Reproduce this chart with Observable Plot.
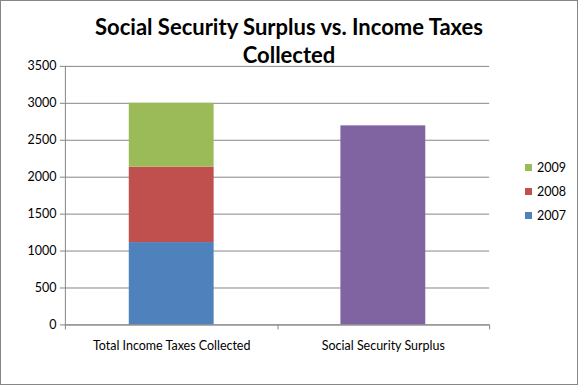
<!DOCTYPE html>
<html>
<head>
<meta charset="utf-8">
<script src="https://cdn.jsdelivr.net/npm/d3@7"></script>
<script src="https://cdn.jsdelivr.net/npm/@observablehq/plot@0.6"></script>
<style>
  html, body { margin: 0; padding: 0; background: #fff; }
  #chart { position: relative; width: 578px; height: 385px; box-sizing: border-box; border: 1px solid #868686; overflow: hidden; font-family: Lato, "Open Sans", sans-serif; }
  #title { position: absolute; left: 0; width: 576px; top: 12px; text-align: center; font-weight: bold; font-size: 22px; line-height: 28px; color: #000; }
  #plot { position: absolute; left: -1px; top: -1px; }
  #legend { position: absolute; left: 524px; top: 154px; font-size: 12.5px; color: #000; }
  .li { display: flex; align-items: center; height: 24px; }
  .sw { width: 7px; height: 7px; margin-right: 5px; }
</style>
</head>
<body>
<div id="chart">
  <div id="plot"></div>
  <div id="title">Social Security Surplus vs. Income Taxes<br>Collected</div>
  <div id="legend"></div>
</div>
<script>
const categories = ["Total Income Taxes Collected", "Social Security Surplus"];
const years = ["2007", "2008", "2009"];
const incomeTaxes = [1115, 1022, 863];
const surplusLabel = "Surplus";
const surplusValue = 2695;
const yTicks = [0, 500, 1000, 1500, 2000, 2500, 3000, 3500];
const seriesColors = ["#4F81BD", "#C0504D", "#9BBB59", "#8064A2"];

const rows = [
  ...years.map((yr, i) => ({cat: categories[0], series: yr, value: incomeTaxes[i]})),
  {cat: categories[1], series: surplusLabel, value: surplusValue}
];

const axisGray = "#868686";

function boundaryTicks(index, scales, values, dims) {
  const x = scales.x;
  const bw = x.bandwidth ? x.bandwidth() : 0;
  const x0 = dims.marginLeft, x2 = dims.width - dims.marginRight;
  const xm = (x(categories[0]) + bw + x(categories[1])) / 2;
  const yb = dims.height - dims.marginBottom;
  const g = document.createElementNS("http://www.w3.org/2000/svg", "g");
  const line = (a, b, c, d) => {
    const l = document.createElementNS("http://www.w3.org/2000/svg", "line");
    l.setAttribute("x1", a); l.setAttribute("y1", b); l.setAttribute("x2", c); l.setAttribute("y2", d);
    l.setAttribute("stroke", axisGray); l.setAttribute("stroke-width", 1);
    g.appendChild(l);
  };
  line(x0 + 0.5, dims.marginTop, x0 + 0.5, yb + 0.5);
  line(x0, yb + 0.5, x2, yb + 0.5);
  for (const xx of [x0, xm, x2]) line(Math.round(xx) + 0.5, yb, Math.round(xx) + 0.5, yb + 5);
  return g;
}

const chart = Plot.plot({
  width: 578,
  height: 385,
  marginLeft: 65,
  marginRight: 88,
  marginTop: 66,
  marginBottom: 60,
  style: {fontFamily: "Lato, 'Open Sans', sans-serif", fontSize: "12.5px", color: "#000", background: "transparent"},
  x: {domain: categories, paddingInner: 0.6, paddingOuter: 0.3, label: null},
  y: {domain: [0, 3500], label: null},
  color: {domain: [...years, surplusLabel], range: seriesColors},
  marks: [
    Plot.gridY(yTicks, {stroke: axisGray, strokeOpacity: 1}),
    Plot.axisY(yTicks, {tickSize: 5, tickPadding: 4, stroke: axisGray, fill: "#000", fontSize: 12.5, tickFormat: d => String(d), label: null}),
    Plot.axisX({tickSize: 0, tickPadding: 16, fill: "#000", fontSize: 12.5, label: null}),
    Plot.barY(rows, Plot.stackY({x: "cat", y: "value", fill: "series", order: null})),
    boundaryTicks
  ]
});
document.getElementById("plot").appendChild(chart);

const legend = document.getElementById("legend");
[...years].reverse().forEach(yr => {
  const i = years.indexOf(yr);
  const d = document.createElement("div");
  d.className = "li";
  d.innerHTML = `<span class="sw" style="background:${seriesColors[i]}"></span><span>${yr}</span>`;
  legend.appendChild(d);
});
</script>
</body>
</html>
